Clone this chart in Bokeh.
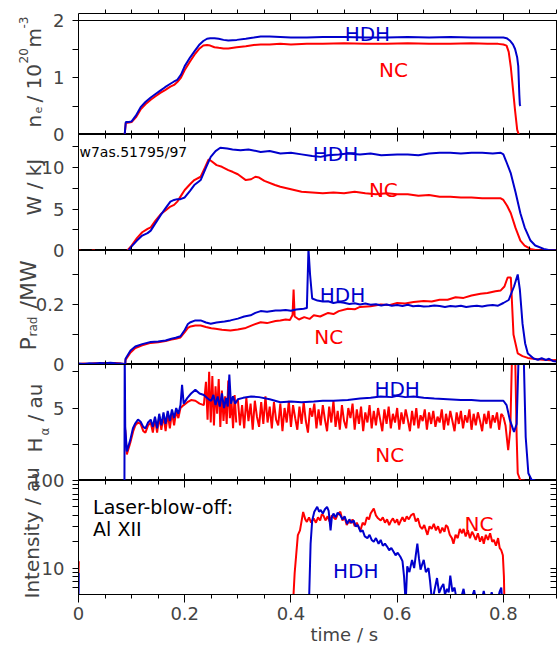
from math import pi, log10
import numpy as np
from bokeh.plotting import figure
from bokeh.layouts import column, row
from bokeh.models import Range1d, FixedTicker, LinearAxis, Label, BasicTickFormatter, Title
from bokeh.embed import file_html
from bokeh.resources import INLINE

FONT = "DejaVu Sans"
RED = "#ff0000"
BLUE = "#0000cc"
TICK_W = 1

# ---------------- axes ticks / tick labels ----------------
X_MAJOR = [0, 0.2, 0.4, 0.6, 0.8]
X_MINOR = [0.05, 0.1, 0.15, 0.25, 0.3, 0.35, 0.45, 0.5, 0.55, 0.65, 0.7, 0.75, 0.85, 0.9]
NE_TICKS = [0, 0.5, 1, 1.5, 2]
NE_LABELS = [0, 1, 2]
W_TICKS = [0, 2.5, 5, 7.5, 10, 12.5]
W_LABELS = [0, 5, 10]
P_TICKS = [0, 0.1, 0.2, 0.3]
P_LABELS = [0, 0.2]
H_TICKS = [0, 2.5, 5, 7.5]
H_LABELS = [5]
I_TICKS = [6, 7, 8, 9, 10, 20, 30, 40, 50, 60, 70, 80, 90, 100]
I_LABELS = [10, 100]

# ---------------- data (time [s], value) ----------------
NE_HDH = [(0.087, 0.0), (0.089, 0.22), (0.095, 0.22), (0.100, 0.23), (0.108, 0.33), (0.117, 0.48),
          (0.126, 0.57), (0.136, 0.65), (0.145, 0.71), (0.154, 0.77), (0.163, 0.83), (0.173, 0.89),
          (0.180, 0.93), (0.186, 0.96), (0.193, 1.05), (0.200, 1.20), (0.210, 1.35), (0.220, 1.48),
          (0.228, 1.58), (0.235, 1.64), (0.242, 1.68), (0.248, 1.69), (0.256, 1.69), (0.264, 1.68),
          (0.273, 1.66), (0.282, 1.65), (0.298, 1.66), (0.315, 1.68), (0.330, 1.70), (0.343, 1.72),
          (0.36, 1.72), (0.38, 1.71), (0.40, 1.70), (0.43, 1.70), (0.46, 1.71), (0.50, 1.71),
          (0.54, 1.70), (0.58, 1.70), (0.62, 1.71), (0.66, 1.70), (0.70, 1.71), (0.74, 1.70),
          (0.77, 1.70), (0.79, 1.70), (0.80, 1.70), (0.806, 1.69), (0.812, 1.65), (0.818, 1.58),
          (0.822, 1.50), (0.826, 1.35), (0.828, 1.20), (0.830, 0.70), (0.831, 0.52), (0.832, 0.50)]
NE_NC = [(0.087, 0.0), (0.089, 0.20), (0.095, 0.21), (0.100, 0.22), (0.108, 0.30), (0.117, 0.44),
         (0.126, 0.53), (0.136, 0.61), (0.145, 0.67), (0.154, 0.73), (0.163, 0.78), (0.173, 0.84),
         (0.180, 0.87), (0.186, 0.92), (0.193, 1.00), (0.200, 1.13), (0.210, 1.28), (0.220, 1.42),
         (0.228, 1.51), (0.235, 1.56), (0.242, 1.57), (0.248, 1.56), (0.256, 1.53), (0.264, 1.52),
         (0.273, 1.51), (0.282, 1.51), (0.298, 1.53), (0.315, 1.55), (0.330, 1.57), (0.343, 1.58),
         (0.36, 1.58), (0.38, 1.59), (0.40, 1.58), (0.43, 1.59), (0.46, 1.59), (0.50, 1.60),
         (0.54, 1.59), (0.58, 1.59), (0.62, 1.60), (0.66, 1.59), (0.70, 1.59), (0.74, 1.60),
         (0.77, 1.59), (0.79, 1.59), (0.80, 1.58), (0.806, 1.56), (0.810, 1.45), (0.814, 1.18),
         (0.818, 0.80), (0.822, 0.42), (0.826, 0.08), (0.829, 0.0)]

W_HDH = [(0.094, 0.0), (0.100, 0.5), (0.110, 1.2), (0.120, 1.8), (0.130, 2.1), (0.136, 2.4),
         (0.145, 3.3), (0.155, 4.3), (0.165, 5.2), (0.173, 5.9), (0.180, 6.1), (0.186, 6.2),
         (0.192, 6.2), (0.200, 6.4), (0.210, 7.2), (0.218, 7.9), (0.226, 8.3), (0.230, 8.5),
         (0.240, 10.0), (0.249, 11.3), (0.258, 12.0), (0.267, 12.4), (0.280, 12.3), (0.290, 12.2),
         (0.305, 12.1), (0.320, 12.2), (0.343, 11.9), (0.360, 12.0), (0.380, 11.7), (0.400, 11.8),
         (0.420, 11.6), (0.440, 11.4), (0.456, 11.3), (0.470, 11.5), (0.490, 11.6), (0.507, 11.7),
         (0.530, 11.6), (0.550, 11.7), (0.570, 11.5), (0.600, 11.6), (0.620, 11.6), (0.640, 11.5),
         (0.660, 11.7), (0.680, 11.8), (0.700, 11.8), (0.720, 11.7), (0.740, 11.8), (0.760, 11.8),
         (0.780, 11.7), (0.795, 11.8), (0.800, 11.6), (0.805, 10.8), (0.814, 9.3), (0.823, 7.0),
         (0.832, 4.5), (0.840, 2.8), (0.851, 1.2), (0.860, 0.6), (0.876, 0.2), (0.885, 0.05), (0.900, 0.0)]
W_NC = [(0.092, 0.0), (0.100, 0.6), (0.110, 1.5), (0.120, 2.2), (0.130, 2.6), (0.136, 2.8),
        (0.145, 3.6), (0.155, 4.4), (0.165, 4.9), (0.173, 5.3), (0.180, 5.5), (0.186, 5.9),
        (0.192, 6.5), (0.200, 7.3), (0.210, 8.0), (0.218, 8.5), (0.230, 8.9), (0.238, 10.0),
        (0.245, 11.0), (0.250, 10.8), (0.260, 10.3), (0.270, 10.1), (0.282, 9.7), (0.290, 9.5),
        (0.300, 9.2), (0.315, 8.5), (0.325, 8.6), (0.333, 8.9), (0.340, 8.8), (0.350, 8.4),
        (0.370, 7.9), (0.380, 7.7), (0.400, 7.4), (0.420, 7.1), (0.440, 7.0), (0.460, 6.9),
        (0.480, 7.0), (0.500, 6.9), (0.520, 7.1), (0.540, 6.9), (0.560, 6.8), (0.580, 6.9),
        (0.600, 6.8), (0.620, 6.8), (0.640, 6.6), (0.660, 6.7), (0.680, 6.5), (0.700, 6.5),
        (0.720, 6.4), (0.740, 6.4), (0.760, 6.3), (0.780, 6.3), (0.795, 6.3), (0.800, 6.1),
        (0.807, 5.4), (0.814, 4.5), (0.823, 2.7), (0.832, 1.2), (0.840, 0.6), (0.851, 0.2),
        (0.860, 0.05), (0.870, 0.0), (0.900, 0.0)]
W_NC_PRE = [(0.001, 0.0), (0.004, 0.0), (np.nan, np.nan), (0.025, 0.0), (0.031, 0.0)]

P_HDH = [(0.0, 0.003), (0.01, 0.002), (0.02, 0.004), (0.03, 0.003), (0.04, 0.005), (0.05, 0.004),
         (0.06, 0.006), (0.07, 0.004), (0.08, 0.003), (0.086, 0.002), (0.088, 0.0), (0.0885, 0.019),
         (0.098, 0.047), (0.107, 0.060), (0.120, 0.068), (0.136, 0.075), (0.150, 0.077), (0.164, 0.080),
         (0.175, 0.086), (0.183, 0.089), (0.192, 0.094), (0.200, 0.115), (0.206, 0.135), (0.211, 0.141),
         (0.220, 0.147), (0.230, 0.147), (0.240, 0.140), (0.249, 0.136), (0.260, 0.140), (0.275, 0.143),
         (0.286, 0.147), (0.300, 0.153), (0.312, 0.160), (0.324, 0.164), (0.333, 0.172), (0.343, 0.178),
         (0.355, 0.176), (0.371, 0.180), (0.380, 0.180), (0.390, 0.182), (0.400, 0.179), (0.410, 0.183),
         (0.424, 0.186), (0.430, 0.188), (0.433, 0.385), (0.436, 0.30), (0.440, 0.22), (0.450, 0.213),
         (0.460, 0.210), (0.470, 0.211), (0.480, 0.205), (0.490, 0.208), (0.500, 0.206), (0.510, 0.202),
         (0.520, 0.204), (0.530, 0.200), (0.540, 0.203), (0.550, 0.199), (0.560, 0.201), (0.570, 0.197),
         (0.580, 0.200), (0.590, 0.196), (0.600, 0.198), (0.610, 0.195), (0.620, 0.199), (0.630, 0.194),
         (0.640, 0.196), (0.650, 0.193), (0.660, 0.194), (0.670, 0.197), (0.680, 0.195), (0.690, 0.192),
         (0.700, 0.195), (0.710, 0.193), (0.720, 0.196), (0.730, 0.192), (0.740, 0.194), (0.750, 0.196),
         (0.760, 0.193), (0.770, 0.197), (0.780, 0.198), (0.790, 0.196), (0.800, 0.205), (0.810, 0.215),
         (0.820, 0.26), (0.827, 0.30), (0.831, 0.25), (0.836, 0.136), (0.841, 0.07), (0.846, 0.037),
         (0.857, 0.02), (0.865, 0.016), (0.872, 0.021), (0.880, 0.015), (0.886, 0.019), (0.893, 0.012),
         (0.900, 0.010)]
P_NC = [(0.0, 0.002), (0.01, 0.003), (0.02, 0.002), (0.03, 0.004), (0.04, 0.003), (0.05, 0.005),
        (0.06, 0.004), (0.07, 0.005), (0.08, 0.003), (0.086, 0.002), (0.088, 0.0), (0.0885, 0.015),
        (0.098, 0.040), (0.107, 0.055), (0.120, 0.064), (0.136, 0.072), (0.150, 0.074), (0.164, 0.078),
        (0.175, 0.083), (0.183, 0.086), (0.192, 0.090), (0.200, 0.108), (0.206, 0.122), (0.211, 0.127),
        (0.220, 0.130), (0.230, 0.130), (0.240, 0.125), (0.250, 0.121), (0.258, 0.119), (0.270, 0.116),
        (0.286, 0.113), (0.300, 0.117), (0.315, 0.122), (0.330, 0.133), (0.343, 0.141), (0.355, 0.138),
        (0.371, 0.145), (0.380, 0.147), (0.390, 0.150), (0.398, 0.148), (0.403, 0.165), (0.405, 0.25),
        (0.407, 0.16), (0.415, 0.150), (0.425, 0.158), (0.435, 0.152), (0.443, 0.164), (0.455, 0.160),
        (0.470, 0.172), (0.480, 0.168), (0.490, 0.178), (0.507, 0.186), (0.520, 0.184), (0.530, 0.192),
        (0.550, 0.194), (0.569, 0.200), (0.585, 0.198), (0.600, 0.205), (0.615, 0.203), (0.631, 0.208),
        (0.650, 0.212), (0.665, 0.210), (0.680, 0.216), (0.695, 0.216), (0.710, 0.224), (0.725, 0.222),
        (0.740, 0.230), (0.757, 0.236), (0.770, 0.238), (0.785, 0.244), (0.795, 0.247), (0.802, 0.26),
        (0.808, 0.29), (0.814, 0.29), (0.819, 0.10), (0.827, 0.037), (0.836, 0.028), (0.846, 0.022),
        (0.860, 0.018), (0.875, 0.016), (0.890, 0.014), (0.900, 0.015)]

H_HDH = [(0.0865, 0.0), (0.0870, 9.0), (0.0880, 3.7), (0.0910, 2.0), (0.0975, 2.8), (0.1025, 3.6),
         (0.107, 3.95), (0.112, 4.2), (0.117, 4.05), (0.122, 3.7), (0.126, 3.6), (0.131, 4.0),
         (0.136, 4.2), (0.140, 3.7), (0.144, 4.4), (0.148, 3.6), (0.152, 4.6), (0.156, 3.8),
         (0.160, 4.7), (0.164, 3.9), (0.168, 4.8), (0.172, 4.1), (0.176, 4.9), (0.180, 4.3),
         (0.184, 5.0), (0.188, 4.6), (0.192, 5.2), (0.195, 6.6), (0.198, 5.3), (0.205, 5.7),
         (0.212, 6.0), (0.220, 6.25), (0.228, 6.0), (0.236, 5.9), (0.245, 5.6), (0.250, 5.5),
         (0.254, 5.9), (0.258, 5.2), (0.262, 5.8), (0.266, 5.1), (0.270, 6.0), (0.274, 5.0),
         (0.278, 5.7), (0.281, 5.1), (0.284, 7.3), (0.287, 5.3), (0.291, 5.8), (0.295, 5.3),
         (0.300, 5.6), (0.310, 5.7), (0.325, 5.8), (0.340, 5.75), (0.360, 5.6), (0.380, 5.4),
         (0.400, 5.45), (0.420, 5.4), (0.443, 5.45), (0.460, 5.5), (0.480, 5.5), (0.507, 5.55),
         (0.530, 5.65), (0.550, 5.7), (0.569, 5.8), (0.590, 5.75), (0.600, 5.85), (0.615, 5.75),
         (0.631, 5.8), (0.650, 5.7), (0.670, 5.65), (0.695, 5.6), (0.720, 5.55), (0.740, 5.55),
         (0.757, 5.5), (0.780, 5.5), (0.800, 5.5), (0.806, 5.2), (0.812, 4.2), (0.820, 3.35),
         (0.825, 3.9), (0.829, 9.0), (0.838, 9.0), (0.842, 3.0), (0.847, 0.5), (0.853, 0.05), (0.860, 0.0)]
H_NC_EARLY = [(0.0880, 3.5), (0.0910, 1.8), (0.0975, 2.6), (0.103, 3.4), (0.107, 3.8), (0.112, 4.0),
              (0.117, 3.9), (0.122, 3.4), (0.126, 3.3), (0.131, 3.8), (0.136, 4.0), (0.140, 3.3),
              (0.144, 4.3), (0.148, 3.3), (0.152, 4.4), (0.156, 3.5), (0.160, 4.5), (0.164, 3.4),
              (0.168, 4.6), (0.172, 3.6), (0.176, 4.7), (0.180, 3.8), (0.184, 4.8), (0.188, 4.3),
              (0.192, 5.0), (0.198, 5.2), (0.205, 5.4), (0.212, 5.55), (0.220, 5.5), (0.228, 5.3),
              (0.236, 5.2), (0.240, 6.8), (0.243, 4.2), (0.246, 7.5), (0.249, 4.0), (0.252, 7.2),
              (0.255, 3.8), (0.258, 6.5), (0.261, 4.6), (0.264, 7.0), (0.267, 3.7), (0.270, 6.2),
              (0.273, 4.1), (0.276, 5.8), (0.279, 3.9), (0.282, 6.9), (0.285, 4.3), (0.288, 5.5),
              (0.291, 3.6), (0.294, 5.9), (0.297, 4.0)]
# NC H-alpha, sampled every 4 ms from 0.300 s
H_NC_T0, H_NC_DT = 0.300, 0.004
H_NC_MID = [5.6, 3.8, 5.2, 3.6, 5.7, 4.1, 5.3, 3.5, 5.5, 4.4, 3.7, 5.4, 3.9, 5.8, 4.0, 5.1, 3.6, 5.4,
            4.2, 3.8, 5.3, 3.4, 5.0, 4.0, 5.5, 3.7, 5.2, 4.3, 3.5, 5.1, 3.9, 5.4, 4.1, 3.3, 5.0, 4.4,
            5.3, 3.6, 4.9, 3.8, 5.2, 4.2, 3.4, 5.1, 4.0, 5.5, 3.7, 4.8, 3.5, 5.2, 4.1, 3.6, 5.0, 4.3,
            5.3, 3.5, 4.9, 3.9, 5.1, 3.4, 4.7, 4.0, 5.2, 3.6, 4.8, 3.8, 5.0, 4.2, 3.4, 4.9, 3.9, 5.1,
            3.6, 4.6, 4.0, 5.0, 3.5, 4.7, 3.9, 4.9, 4.2, 3.4, 4.8, 3.8, 5.0, 3.6, 4.5, 4.1, 4.9, 3.5,
            4.7, 3.9, 4.8, 3.7, 4.4, 4.0, 4.9, 3.5, 4.6, 3.8, 4.8, 4.1, 3.4, 4.7, 3.9, 4.8, 3.6, 4.5,
            4.0, 4.9, 3.5, 4.6, 3.8, 4.7, 4.1, 3.4, 4.6, 3.9, 4.8, 3.6, 4.5, 4.0, 4.7, 3.5, 4.6, 4.4]
H_NC_END = [(0.804, 3.8), (0.809, 2.1), (0.813, 3.5), (0.8165, 9.0), (0.822, 9.0), (0.825, 3.0),
            (0.827, 0.5), (0.832, 0.0), (0.840, 0.0)]

I_NC = [(0.404, 4.0), (0.407, 8.8), (0.413, 23.8), (0.417, 27), (0.423, 43.8), (0.427, 36),
        (0.430, 33.7), (0.434, 38), (0.438, 33), (0.443, 36.8), (0.447, 33), (0.451, 38), (0.455, 35),
        (0.458, 41), (0.461, 40), (0.465, 35), (0.469, 39), (0.473, 34), (0.477, 40), (0.480, 38),
        (0.484, 36), (0.488, 41), (0.493, 44), (0.497, 35), (0.501, 38), (0.505, 31), (0.509, 35),
        (0.512, 32.5), (0.516, 36), (0.520, 30), (0.524, 33), (0.528, 29), (0.531, 27), (0.535, 33),
        (0.539, 31), (0.543, 38), (0.547, 36), (0.550, 42), (0.556, 48), (0.560, 40), (0.564, 37),
        (0.569, 35), (0.573, 38), (0.577, 33), (0.581, 36), (0.585, 31), (0.588, 34), (0.592, 37),
        (0.596, 33), (0.600, 36), (0.603, 31), (0.606, 34), (0.610, 38), (0.614, 34), (0.618, 39),
        (0.622, 36), (0.626, 40), (0.631, 42), (0.635, 34), (0.639, 37), (0.643, 30), (0.647, 28),
        (0.651, 31), (0.655, 26), (0.657, 24), (0.661, 30), (0.665, 28), (0.669, 32), (0.673, 27),
        (0.677, 30), (0.681, 25), (0.685, 29), (0.689, 26), (0.692, 31), (0.695, 29.6), (0.699, 24),
        (0.703, 22), (0.706, 19), (0.710, 24), (0.714, 22), (0.718, 28), (0.722, 25), (0.725, 28),
        (0.729, 23), (0.733, 27), (0.737, 22), (0.741, 26), (0.744, 24), (0.748, 21), (0.752, 25),
        (0.756, 20), (0.760, 23), (0.763, 19), (0.767, 24), (0.771, 21), (0.775, 25), (0.779, 20),
        (0.782, 21), (0.786, 18), (0.790, 22), (0.793, 17), (0.796, 16), (0.799, 14), (0.801, 8),
        (0.802, 4.0)]
I_HDH = [(0.434, 4.0), (0.437, 19), (0.440, 35), (0.444, 44), (0.4495, 50), (0.453, 44), (0.456, 46),
         (0.460, 42), (0.464, 47), (0.468, 50), (0.471, 45), (0.4746, 27), (0.477, 38), (0.480, 42),
         (0.484, 38), (0.488, 43), (0.493, 40), (0.497, 36), (0.501, 39), (0.506, 32), (0.510, 36),
         (0.514, 33), (0.518, 35), (0.522, 30), (0.526, 31), (0.531, 26), (0.535, 27), (0.539, 23),
         (0.544, 22), (0.548, 24), (0.552, 21), (0.556, 20), (0.560, 22), (0.565, 19), (0.569, 21),
         (0.573, 18), (0.577, 19), (0.581, 17.6), (0.585, 16), (0.589, 17), (0.593, 15.5), (0.597, 14),
         (0.601, 15), (0.606, 13.5), (0.610, 12), (0.613, 8), (0.616, 4.0), (0.619, 10.5), (0.623, 9),
         (0.628, 12.4), (0.632, 10), (0.635, 14), (0.638, 19), (0.641, 13), (0.644, 9.6), (0.647, 11),
         (0.650, 12.4), (0.654, 9), (0.659, 10), (0.662, 7), (0.666, 4.0), (0.670, 5.5), (0.675, 7.7),
         (0.679, 5.2), (0.683, 6.0), (0.687, 6.6), (0.690, 5.0), (0.694, 5.8), (0.697, 5.3), (0.700, 8.2),
         (0.704, 5.4), (0.708, 6.0), (0.713, 4.0), (0.720, 4.5), (0.725, 5.8), (0.728, 4.5), (0.740, 4.5),
         (0.745, 5.6), (0.748, 4.5), (0.760, 4.5), (0.763, 5.5), (0.766, 4.5), (0.775, 4.5), (0.778, 5.3),
         (0.781, 4.5), (0.790, 4.5), (0.793, 5.4), (0.796, 6.0), (0.798, 4.0)]
I_NC_PRE = [(0.0, 8.8), (0.0005, 12.0)]
I_HDH_PRE = [(0.0, 4.0), (0.0005, 8.8)]

# ---------------- layout (pixels) ----------------
TOTAL_H = 648
LAB_W = 70          # width of the left strip holding the y labels
TOP_PAD = 20
BOTTOM_PAD = 54
FRAME_W = 478
FRAME_HS = [114, 116, 114, 116, 114]
X_RANGE = (0, 0.9)
Y_RANGES = [(0, 2), (0, 14), (0, 0.38), (0, 8), (log10(5), 2)]   # last one in log10 units
RANGE_NAMES = ["ne", "w", "p", "h", "i"]


def unzip(pairs):
    return [a for a, b in pairs], [b for a, b in pairs]


xr = Range1d(*X_RANGE)


def make_panel(i, log=False):
    y0, y1 = Y_RANGES[i]
    yr = Range1d(10 ** y0, 10 ** y1) if log else Range1d(y0, y1)
    p = figure(frame_width=FRAME_W, frame_height=FRAME_HS[i], x_range=xr, y_range=yr,
               y_axis_type="log" if log else "linear",
               x_axis_location=None, y_axis_location=None,
               min_border_left=8, min_border_right=1,
               min_border_top=TOP_PAD if i == 0 else 0,
               min_border_bottom=BOTTOM_PAD if i == 4 else 0,
               output_backend="svg", toolbar_location=None,
               background_fill_color="white", border_fill_color="white",
               outline_line_color="black", outline_line_width=1)
    p.grid.visible = False
    return p


def tick_axis(ticks, tin, tout):
    return LinearAxis(ticker=FixedTicker(ticks=ticks, minor_ticks=[]),
                      major_tick_in=tin, major_tick_out=tout,
                      minor_tick_in=0, minor_tick_out=0,
                      major_label_text_font_size="1px", major_label_text_color=None,
                      major_label_standoff=0,
                      axis_line_color="black", major_tick_line_color="black",
                      major_tick_line_width=TICK_W)


def add_frame_ticks(p, yticks, top_out=False, bottom_labels=False):
    p.add_layout(tick_axis(yticks, 0, 6), "left")
    p.add_layout(tick_axis(yticks, 6, 0), "right")
    if top_out:
        p.add_layout(tick_axis(X_MAJOR, 0, 7), "above")
        p.add_layout(tick_axis(X_MINOR, 0, 4), "above")
    else:
        p.add_layout(tick_axis(X_MAJOR, 7, 0), "above")
        p.add_layout(tick_axis(X_MINOR, 4, 0), "above")
    if bottom_labels:
        # minor ticks right at the frame edge, then the labelled axis just outside them
        p.add_layout(tick_axis(X_MINOR, 0, 4), "below")
        ax = LinearAxis(ticker=FixedTicker(ticks=X_MAJOR, minor_ticks=[]),
                        formatter=BasicTickFormatter(),
                        major_tick_in=4, major_tick_out=4, minor_tick_in=0, minor_tick_out=0,
                        major_label_text_font=FONT, major_label_text_font_size="18px",
                        major_label_standoff=4, axis_line_color=None,
                        major_tick_line_color="black", major_tick_line_width=TICK_W)
        p.add_layout(ax, "below")
    else:
        p.add_layout(tick_axis(X_MAJOR, 7, 0), "below")
        p.add_layout(tick_axis(X_MINOR, 4, 0), "below")


def txt(p, x, y, text, size=20, color="black", align="left", units="data"):
    p.add_layout(Label(x=x, y=y, x_units=units, y_units=units, text=text,
                       text_font=FONT, text_font_size=f"{size}px", text_color=color,
                       text_align=align, text_baseline="alphabetic"))


def series(p, pairs, color):
    t, v = unzip(pairs)
    p.line(t, v, line_color=color, line_width=2)


# ---------- panel 1: density ----------
p1 = make_panel(0)
add_frame_ticks(p1, NE_TICKS, top_out=True)
series(p1, NE_NC, RED)
series(p1, NE_HDH, BLUE)
txt(p1, 0.544, 1.77, "HDH", 20, BLUE, "center")
txt(p1, 0.593, 1.14, "NC", 20, RED, "center")

# ---------- panel 2: energy ----------
p2 = make_panel(1)
add_frame_ticks(p2, W_TICKS)
series(p2, W_NC_PRE, RED)
series(p2, W_NC, RED)
series(p2, W_HDH, BLUE)
txt(p2, 0.484, 11.66, "HDH", 20, BLUE, "center")
txt(p2, 0.574, 7.3, "NC", 20, RED, "center")
txt(p2, 1, 99, "w7as.51795/97", 14, units="screen")

# ---------- panel 3: radiated power ----------
p3 = make_panel(2)
add_frame_ticks(p3, P_TICKS)
series(p3, P_NC, RED)
series(p3, P_HDH, BLUE)
txt(p3, 0.497, 0.231, "HDH", 20, BLUE, "center")
txt(p3, 0.471, 0.091, "NC", 20, RED, "center")

# ---------- panel 4: H-alpha ----------
p4 = make_panel(3)
add_frame_ticks(p4, H_TICKS)
series(p4, H_NC_EARLY, RED)
mid_t = [H_NC_T0 + H_NC_DT * k for k in range(len(H_NC_MID))]
p4.line(mid_t, H_NC_MID, line_color=RED, line_width=2)
series(p4, [(mid_t[-1], H_NC_MID[-1])] + H_NC_END, RED)
series(p4, H_HDH, BLUE)
txt(p4, 0.60, 6.3, "HDH", 20, BLUE, "center")
txt(p4, 0.586, 1.74, "NC", 20, RED, "center")

# ---------- panel 5: Al XII intensity ----------
p5 = make_panel(4, log=True)
add_frame_ticks(p5, I_TICKS, bottom_labels=True)
p5.add_layout(Title(text="time / s", align="left", offset=232, standoff=0,
                    text_font=FONT, text_font_size="18px", text_font_style="normal",
                    vertical_align="middle"), "below")
series(p5, I_NC_PRE, RED)
series(p5, I_HDH_PRE, BLUE)
series(p5, I_NC, RED)
series(p5, I_HDH, BLUE)
txt(p5, 0.754, 31.8, "NC", 20, RED, "center")
txt(p5, 0.522, 9.16, "HDH", 20, BLUE, "center")
txt(p5, 0.0275, 49.9, "Laser-blow-off:", 19)
txt(p5, 0.0275, 27.6, "Al XII", 19)

# ---------- left strip: y tick labels and y axis titles ----------
extra = {}
top = TOP_PAD
for name, (y0, y1), fh in zip(RANGE_NAMES, Y_RANGES, FRAME_HS):
    bot = top + fh
    per = (y1 - y0) / fh
    extra[name] = Range1d(y0 - (TOTAL_H - bot) * per, y1 + top * per)
    top = bot

lab = figure(frame_width=LAB_W, frame_height=TOTAL_H, x_range=Range1d(0, LAB_W),
             y_range=Range1d(0, TOTAL_H), extra_y_ranges=extra,
             x_axis_location=None, y_axis_location=None, min_border=0,
             output_backend="svg", toolbar_location=None,
             background_fill_color="white", border_fill_color="white", outline_line_color=None)
lab.grid.visible = False


def tick_label(name, y, text, baseline="middle"):
    lab.add_layout(Label(x=64, y=y, x_units="screen", y_units="data", y_range_name=name,
                         text=text, text_font=FONT, text_font_size="18px",
                         text_align="right", text_baseline=baseline))


for v in NE_LABELS:
    tick_label("ne", v, f"{v:g}", "alphabetic" if v == NE_LABELS[0] else "middle")
for v in W_LABELS:
    tick_label("w", v, f"{v:g}")
for v in P_LABELS:
    tick_label("p", v, f"{v:g}", "alphabetic" if v == P_LABELS[0] else "middle")
for v in H_LABELS:
    tick_label("h", v, f"{v:g}")
for v in I_LABELS:
    tick_label("i", log10(v), f"{v:g}", "alphabetic" if v == I_LABELS[-1] else "middle")

# rotated axis titles: (text, baseline x, start y from strip bottom, font px)
Y_TITLES = [("n", 33, 521, 20), ("e", 37, 535, 11), ("/ 10", 33, 546, 20), ("20", 23, 585, 12),
            ("m", 33, 601, 20), ("-3", 23, 620, 12),
            ("W / kJ", 33, 433, 20),
            ("P", 28, 298, 22), ("rad", 32, 312, 12), ("/MW", 28, 340, 22),
            ("H", 34, 196, 20), ("\u03b1", 44, 213, 12), ("/ au", 34, 227, 20),
            ("Intensity / au", 31, 50, 20)]
for text, x, y, size in Y_TITLES:
    lab.add_layout(Label(x=x, y=y, x_units="screen", y_units="screen", text=text, angle=pi / 2,
                         text_font=FONT, text_font_size=f"{size}px",
                         text_align="left", text_baseline="alphabetic"))

layout = row(lab, column(p1, p2, p3, p4, p5, spacing=0), spacing=0)
open("out.html", "w").write(file_html(layout, INLINE))
